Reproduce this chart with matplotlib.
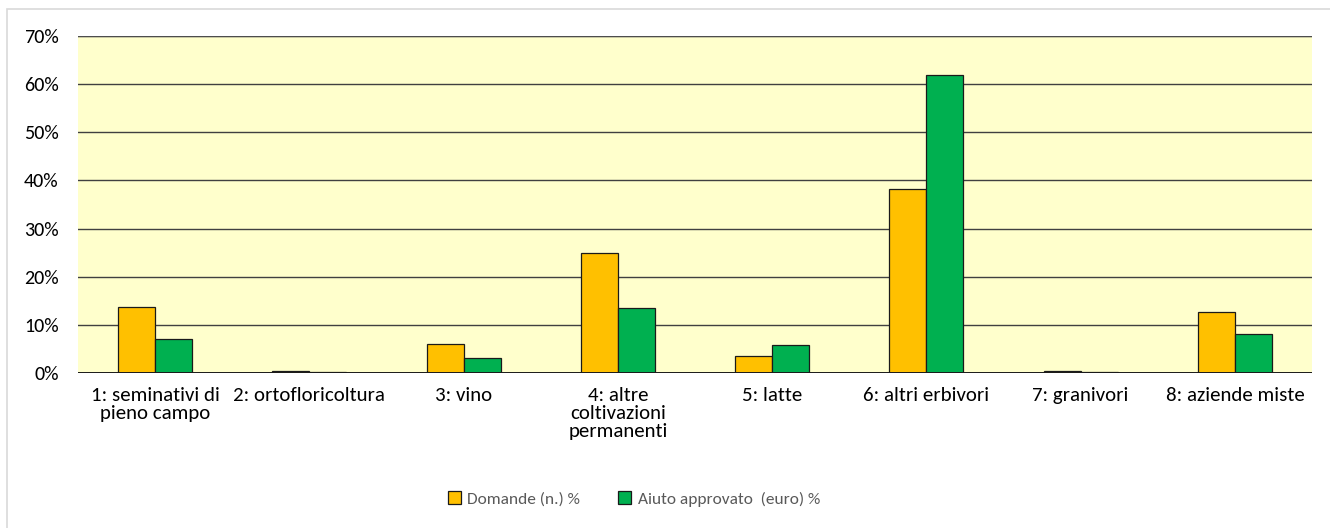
import matplotlib
matplotlib.use("Agg")
import matplotlib.pyplot as plt
from matplotlib import font_manager
import numpy as np
from matplotlib.patches import Rectangle

installed = {f.name for f in font_manager.fontManager.ttflist}
if "Carlito" in installed:
    plt.rcParams['font.family'] = ['Carlito', 'DejaVu Sans']
    fs_x, fs_y, fs_leg = 15, 14.5, 12.5
else:
    plt.rcParams['font.family'] = ['Lato', 'DejaVu Sans']
    fs_x, fs_y, fs_leg = 13.6, 13, 11.4

categories = ["1: seminativi di\npieno campo", "2: ortofloricoltura", "3: vino",
              "4: altre\ncoltivazioni\npermanenti", "5: latte", "6: altri erbivori",
              "7: granivori", "8: aziende miste"]
domande = [13.7, 0.4, 6.1, 25.0, 3.5, 38.2, 0.5, 12.7]
aiuto = [7.0, 0.2, 3.1, 13.5, 5.8, 62.0, 0.3, 8.2]
series_names = ["Domande (n.) %", "Aiuto approvato  (euro) %"]
yticks = [0, 10, 20, 30, 40, 50, 60, 70]

W, H = 1330, 528
fig = plt.figure(figsize=(W / 100, H / 100), dpi=100)
fig.patch.set_facecolor("white")

# outer chart frame
frame = Rectangle((7 / W, -0.1), 1.2, (H - 9) / H + 0.1, transform=fig.transFigure,
                  facecolor="none", edgecolor="#d9d9d9", linewidth=1.2)
fig.add_artist(frame)

ax = fig.add_axes([78 / W, 1 - 373 / H, (1312 - 78) / W, (373 - 36) / H])
ax.set_facecolor("#FFFFCC")

x = np.arange(len(categories))
bw = 0.24
ax.bar(x - bw / 2, domande, bw, color="#FFC000", edgecolor="#1a1a1a", linewidth=0.9,
       label=series_names[0], zorder=3)
ax.bar(x + bw / 2, aiuto, bw, color="#00B050", edgecolor="#1a1a1a", linewidth=0.9,
       label=series_names[1], zorder=3)

ax.set_xlim(-0.5, len(categories) - 0.5)
ax.set_ylim(0, 70)
ax.set_yticks(yticks)
ax.set_yticklabels([f"{v}%" for v in yticks])
for v in yticks:
    ax.axhline(v, color="#404040", linewidth=1.0, zorder=1)
ax.axhline(70, color="#4d4d4d", linewidth=1.6, zorder=1)
ax.axhline(0, color="#1a1a1a", linewidth=1.4, zorder=4)

ax.set_xticks(x)
ax.set_xticklabels(categories, fontsize=fs_x, linespacing=1.08, va="top")
ax.tick_params(axis="x", length=0, pad=10)
ax.tick_params(axis="y", length=0, pad=14, labelsize=fs_y)
for s in ax.spines.values():
    s.set_visible(False)

leg = fig.legend(loc="center", bbox_to_anchor=(634 / W, 1 - 499 / H), ncol=2,
                 frameon=False, fontsize=fs_leg, handlelength=0.75, handleheight=0.75,
                 handletextpad=0.35, columnspacing=2.2)
for t in leg.get_texts():
    t.set_color("#595959")

fig.savefig("out.png", dpi=100)
